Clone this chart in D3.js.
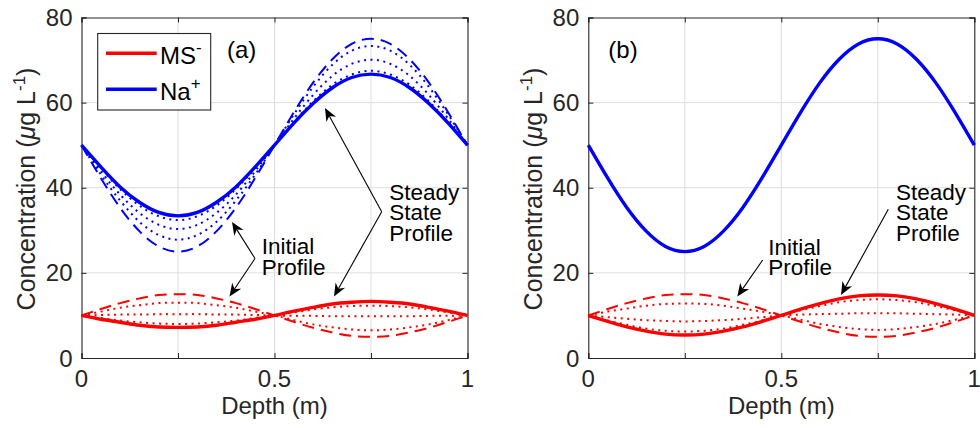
<!DOCTYPE html>
<html><head><meta charset="utf-8">
<script src="https://cdn.jsdelivr.net/npm/d3@7"></script>
<style>
body{margin:0;background:#fff;}
svg{display:block;font-family:"Liberation Sans",Arial,Helvetica,sans-serif;}
</style>
</head><body>
<svg id="chart" width="980" height="428"></svg>
<script>
// ---------- data ----------
const depth = [0,0.05,0.1,0.15,0.2,0.25,0.3,0.35,0.4,0.45,0.5,0.55,0.6,0.65,0.7,0.75,0.8,0.85,0.9,0.95,1];
const xTicks = [0,0.25,0.5,0.75,1];
const xTickLabels = ["0","","0.5","","1"];
const yTicks = [0,20,40,60,80];
const yTickLabels = ["0","20","40","60","80"];
const legendLabels = ["MS", "Na"];

// Panel (a) — Na+
const aNaInitial = [50,42.3,35.3,29.8,26.2,25,26.2,29.8,35.3,42.3,50,57.7,64.7,70.2,73.8,75,73.8,70.2,64.7,57.7,50];
const aNaMid1    = [50,43.1,37.0,32.0,28.9,27.8,28.9,32.0,37.0,43.1,50,57.2,63.7,68.9,72.2,73.3,72.2,68.9,63.7,57.2,50];
const aNaMid2    = [50,43.9,38.4,34.1,31.3,30.3,31.3,34.1,38.4,43.9,50,56.2,61.8,66.3,69.1,70.1,69.1,66.3,61.8,56.2,50];
const aNaMid3    = [50,44.6,39.7,35.8,33.3,32.4,33.3,35.8,39.7,44.6,50,55.4,60.3,64.2,66.6,67.5,66.6,64.2,60.3,55.4,50];
const aNaSteady  = [50,44.9,40.2,36.6,34.2,33.4,34.2,36.6,40.2,44.9,50,55.2,59.8,63.5,65.9,66.7,65.9,63.5,59.8,55.2,50];
// Panel (a) — MS-
const aMsInitial = [10,11.5,12.9,14.0,14.8,15,14.8,14.0,12.9,11.5,10,8.5,7.1,6.0,5.2,5,5.2,6.0,7.1,8.5,10];
const aMsMid1    = [10,10.9,11.8,12.4,12.9,13.0,12.9,12.4,11.8,10.9,10,8.9,7.9,7.2,6.7,6.5,6.7,7.2,7.9,8.9,10];
const aMsMid2    = [10,10.1,10.2,10.2,10.3,10.3,10.3,10.2,10.2,10.1,10,9.9,9.9,9.8,9.8,9.8,9.8,9.8,9.9,9.9,10];
const aMsMid3    = [10,9.4,8.8,8.4,8.1,8.0,8.1,8.4,8.8,9.4,10,10.7,11.4,11.9,12.2,12.3,12.2,11.9,11.4,10.7,10];
const aMsSteady  = [10,9.1,8.4,7.7,7.3,7.2,7.3,7.7,8.4,9.1,10,11.0,11.9,12.7,13.1,13.3,13.1,12.7,11.9,11.0,10];

// Panel (b) — Na+
const bNaSteady  = [50,42.3,35.3,29.8,26.2,25,26.2,29.8,35.3,42.3,50,57.7,64.7,70.2,73.8,75,73.8,70.2,64.7,57.7,50];
// Panel (b) — MS-
const bMsInitial = [10,11.5,12.9,14.0,14.8,15,14.8,14.0,12.9,11.5,10,8.5,7.1,6.0,5.2,5,5.2,6.0,7.1,8.5,10];
const bMsMid1    = [10,10.9,11.6,12.3,12.7,12.8,12.7,12.3,11.6,10.9,10,9.0,8.0,7.3,6.8,6.6,6.8,7.3,8.0,9.0,10];
const bMsMid2    = [10,9.6,9.2,8.9,8.7,8.6,8.7,8.9,9.2,9.6,10,10.2,10.3,10.4,10.5,10.5,10.5,10.4,10.3,10.2,10];
const bMsMid3    = [10,8.8,7.8,6.9,6.4,6.2,6.4,6.9,7.8,8.8,10,11.2,12.2,13.1,13.6,13.8,13.6,13.1,12.2,11.2,10];
const bMsSteady  = [10,8.6,7.3,6.3,5.6,5.4,5.6,6.3,7.3,8.6,10,11.5,12.8,13.9,14.6,14.8,14.6,13.9,12.8,11.5,10];

// ---------- drawing ----------
const RED = "#ff0000", BLUE = "#0000ff", AX = "#262626";
const svg = d3.select("#chart");

const styles = {
  initial: {w: 2, dash: "12,7"},
  mid:     {w: 2, dash: "2,4.5"},
  steady:  {w: 3.4, dash: null}
};

function arrow(g, x0, y0, x1, y1) {
  const dx = x1 - x0, dy = y1 - y0, L = Math.hypot(dx, dy);
  const ux = dx / L, uy = dy / L, px = -uy, py = ux;
  const hl = 13, hw = 5.5, notch = 4;
  g.append("line").attr("x1", x0).attr("y1", y0)
    .attr("x2", x1 - ux * (hl - notch)).attr("y2", y1 - uy * (hl - notch))
    .attr("stroke", "#000").attr("stroke-width", 1.1);
  const pts = [
    [x1, y1],
    [x1 - ux * hl + px * hw, y1 - uy * hl + py * hw],
    [x1 - ux * (hl - notch), y1 - uy * (hl - notch)],
    [x1 - ux * hl - px * hw, y1 - uy * hl - py * hw]
  ];
  g.append("polygon").attr("points", pts.map(p => p.join(",")).join(" ")).attr("fill", "#000");
}

function panel(left, series, tag, annots) {
  const W = 386, top = 17.5, bottom = 358;
  const x = d3.scaleLinear().domain([0, 1]).range([left, left + W]);
  const y = d3.scaleLinear().domain([0, 80]).range([bottom, top]);
  const g = svg.append("g");

  // grid
  g.selectAll(".gx").data(xTicks.slice(1, -1)).join("line")
    .attr("x1", d => x(d)).attr("x2", d => x(d)).attr("y1", top).attr("y2", bottom)
    .attr("stroke", "#dedede").attr("stroke-width", 1);
  g.selectAll(".gy").data(yTicks.slice(1, -1)).join("line")
    .attr("y1", d => y(d)).attr("y2", d => y(d)).attr("x1", left).attr("x2", left + W)
    .attr("stroke", "#dedede").attr("stroke-width", 1);

  // axes with ticks on all sides (inward)
  const axB = d3.axisBottom(x).tickValues(xTicks).tickSize(-5).tickFormat("");
  const axT = d3.axisTop(x).tickValues(xTicks).tickSize(-5).tickFormat("");
  const axL = d3.axisLeft(y).tickValues(yTicks).tickSize(-5).tickFormat("");
  const axR = d3.axisRight(y).tickValues(yTicks).tickSize(-5).tickFormat("");
  [[axB, `translate(0,${bottom})`], [axT, `translate(0,${top})`],
   [axL, `translate(${left},0)`], [axR, `translate(${left + W},0)`]].forEach(([ax, tr]) => {
    const a = g.append("g").attr("transform", tr).call(ax);
    a.select(".domain").attr("stroke", AX).attr("stroke-width", 1.1);
    a.selectAll(".tick line").attr("stroke", AX).attr("stroke-width", 1);
  });

  // tick labels
  g.selectAll(".xl").data(xTicks).join("text")
    .attr("x", d => x(d)).attr("y", 387).attr("text-anchor", "middle")
    .attr("font-size", 24).attr("fill", AX).text((d, i) => xTickLabels[i]);
  g.selectAll(".yl").data(yTicks).join("text")
    .attr("x", left - 9).attr("y", d => y(d) + 8.6).attr("text-anchor", "end")
    .attr("font-size", 24).attr("fill", AX).text((d, i) => yTickLabels[i]);

  // axis titles
  g.append("text").attr("x", left + W / 2).attr("y", 414).attr("text-anchor", "middle")
    .attr("font-size", 24).attr("fill", AX).text("Depth (m)");
  const yt = g.append("text").attr("transform", `translate(${left - 46.5},189) rotate(-90)`)
    .attr("text-anchor", "middle").attr("font-size", 25).attr("fill", AX);
  yt.append("tspan").text("Concentration (");
  yt.append("tspan").attr("font-style", "italic").text("\u03bc");
  yt.append("tspan").text("g L");
  yt.append("tspan").attr("dy", -10).attr("font-size", 17).text("-1");
  yt.append("tspan").attr("dy", 10).text(")");

  // series
  const line = d3.line().x((d, i) => x(depth[i])).y(d => y(d)).curve(d3.curveNatural);
  series.forEach(s => {
    const st = styles[s.kind];
    g.append("path").attr("d", line(s.values)).attr("fill", "none")
      .attr("stroke", s.color).attr("stroke-width", st.w)
      .attr("stroke-dasharray", st.dash);
  });

  // panel tag
  g.append("text").attr("x", left + tag.dx).attr("y", 58).attr("font-size", 24)
    .attr("fill", "#000").text(tag.text);

  // annotations (one multi-line text each)
  annots.forEach(a => {
    const t = g.append("text").attr("font-size", 22.5).attr("fill", "#000");
    a.lines.forEach((s, i) => {
      t.append("tspan").attr("x", a.tx).attr("y", a.ty + i * 20.5).text(s);
    });
    a.arrows.forEach(ar => arrow(g, a.ox, a.oy, ar[0], ar[1]));
  });
  return {x, y, g};
}

// Panel (a)
panel(81.5, [
  {values: aNaInitial, color: BLUE, kind: "initial"},
  {values: aNaMid1, color: BLUE, kind: "mid"},
  {values: aNaMid2, color: BLUE, kind: "mid"},
  {values: aNaMid3, color: BLUE, kind: "mid"},
  {values: aMsInitial, color: RED, kind: "initial"},
  {values: aMsMid1, color: RED, kind: "mid"},
  {values: aMsMid2, color: RED, kind: "mid"},
  {values: aMsMid3, color: RED, kind: "mid"},
  {values: aNaSteady, color: BLUE, kind: "steady"},
  {values: aMsSteady, color: RED, kind: "steady"}
], {text: "(a)", dx: 145.5}, [
  {lines: ["Initial", "Profile"], tx: 261.7, ty: 254.3, ox: 255, oy: 258.5, arrows: [[232, 222], [229.5, 296.5]]},
  {lines: ["Steady", "State", "Profile"], tx: 389.3, ty: 199.5, ox: 381.7, oy: 211.7, arrows: [[325, 108], [334, 296.5]]}
]);

// Panel (b)
panel(588.3, [
  {values: bMsInitial, color: RED, kind: "initial"},
  {values: bMsMid1, color: RED, kind: "mid"},
  {values: bMsMid2, color: RED, kind: "mid"},
  {values: bMsMid3, color: RED, kind: "mid"},
  {values: bNaSteady, color: BLUE, kind: "steady"},
  {values: bMsSteady, color: RED, kind: "steady"}
], {text: "(b)", dx: 20}, [
  {lines: ["Initial", "Profile"], tx: 768.3, ty: 254.5, ox: 762.7, oy: 260, arrows: [[737.3, 296.5]]},
  {lines: ["Steady", "State", "Profile"], tx: 896, ty: 199.5, ox: 888.3, oy: 209.3, arrows: [[841, 295]]}
]);

// legend in panel (a)
const lg = svg.append("g");
lg.append("rect").attr("x", 97.7).attr("y", 33.5).attr("width", 113).attr("height", 76.5)
  .attr("fill", "#fff").attr("stroke", AX).attr("stroke-width", 1.1);
[{c: RED, y: 53.3, sup: "-"}, {c: BLUE, y: 89.3, sup: "+"}].forEach((d, i) => {
  lg.append("line").attr("x1", 106).attr("x2", 156.7).attr("y1", d.y).attr("y2", d.y)
    .attr("stroke", d.c).attr("stroke-width", 3.4);
  const t = lg.append("text").attr("x", 160).attr("y", d.y + 10.7).attr("font-size", 24).attr("fill", "#000");
  t.append("tspan").text(legendLabels[i]);
  t.append("tspan").attr("dy", -11).attr("font-size", 17).text(d.sup);
});
</script>
</body></html>
